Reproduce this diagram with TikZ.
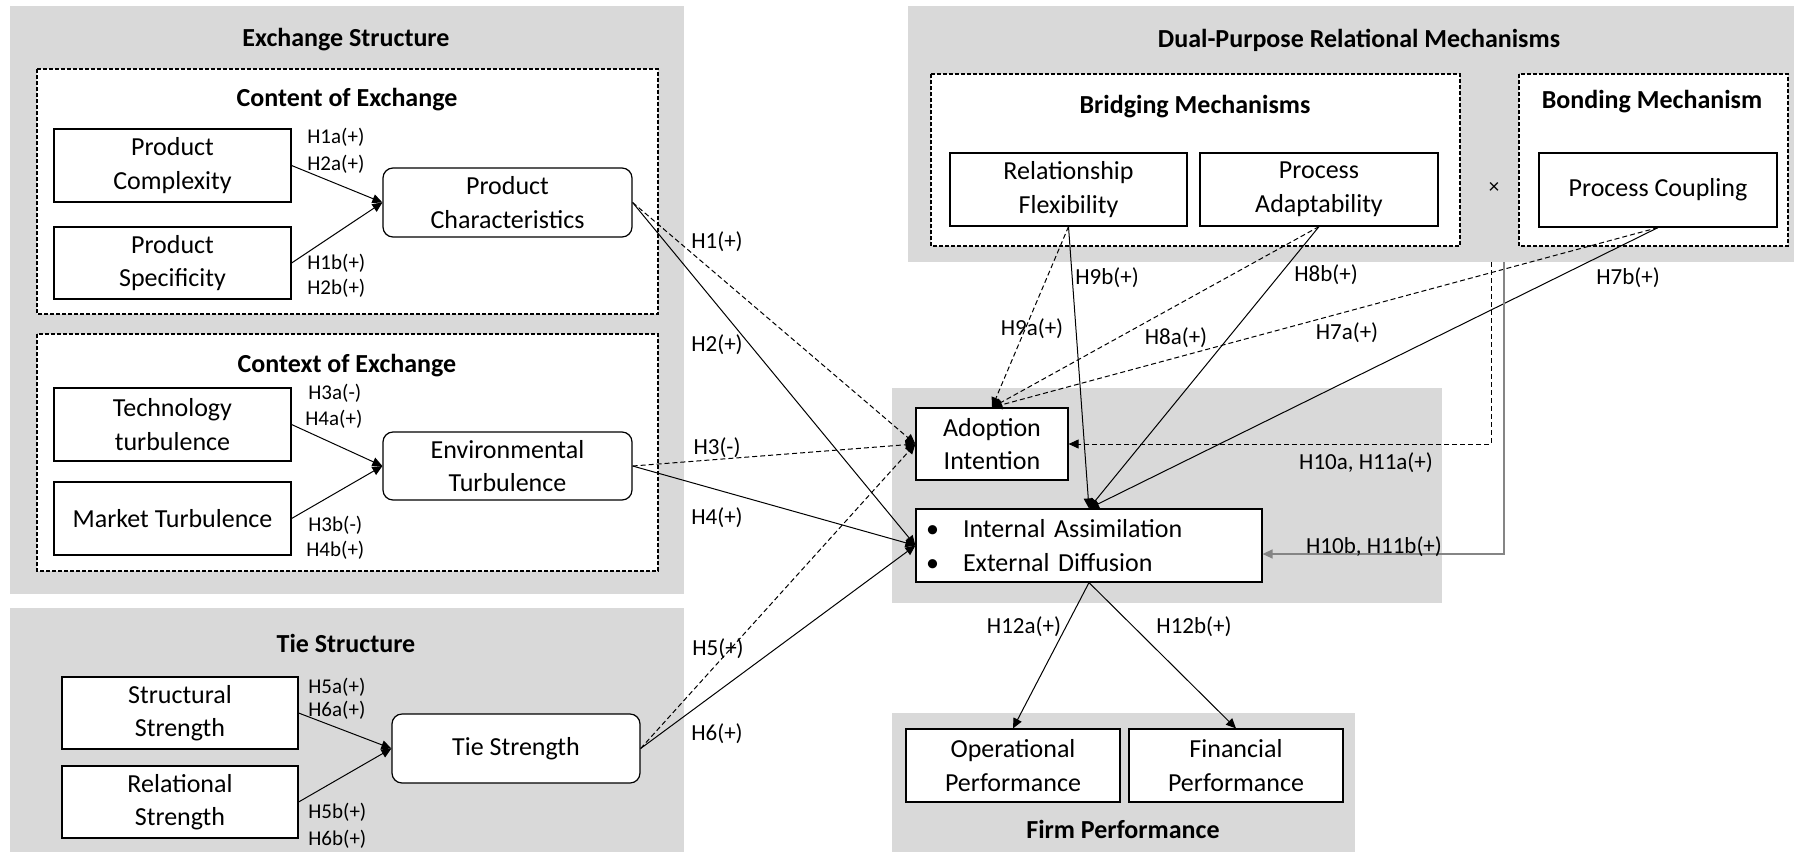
\documentclass[tikz,border=0pt]{standalone}
\usepackage{fontspec}
\setmainfont{Carlito}
\usetikzlibrary{arrows.meta}
\definecolor{panelgrey}{HTML}{D9D9D9}
\definecolor{linkgrey}{HTML}{858585}
\begin{document}
\begin{tikzpicture}[x=0.5pt,y=-0.5pt,
  panel/.style={fill=panelgrey, draw=none},
  groupbox/.style={fill=white, draw=black, line width=0.6pt, dash pattern=on 2pt off 1pt},
  heading/.style={font=\fontsize{13}{16.5}\selectfont\bfseries, inner sep=0pt},
  varbox/.style={draw=black, fill=white, line width=0.6pt, align=center, inner sep=0pt,
    font=\fontsize{13}{16.8}\selectfont},
  construct/.style={varbox, rounded corners=5pt},
  hyp/.style={font=\fontsize{10.5}{12}\selectfont, inner sep=0pt, anchor=west},
  hlabel/.style={font=\fontsize{11.5}{13}\selectfont, inner sep=0pt},
  link/.style={line width=0.5pt, -{Triangle[length=5pt,width=4.5pt]}},
  dlink/.style={link, dash pattern=on 2.5pt off 1.5pt},
]
\useasboundingbox (0,0) rectangle (1794,852);

% grey panels
\fill[panel] (10,6) rectangle (684,594);
\fill[panel] (10,608) rectangle (684,852);
\fill[panel] (908,6) rectangle (1794,262);
\fill[panel] (892,388) rectangle (1442,603);
\fill[panel] (892,713) rectangle (1355,852);

% dashed groups
\draw[groupbox] (37,69) rectangle (658,314);
\draw[groupbox] (37,334) rectangle (658,571);
\draw[groupbox] (931,74) rectangle (1460,246);
\draw[groupbox] (1519,74) rectangle (1788,246);

% headings
\node[heading] (hEx) at (346,40) {Exchange Structure};
\node[heading] (hContent) at (347,100) {Content of Exchange};
\node[heading] (hContext) at (347,366) {Context of Exchange};
\node[heading] (hTie) at (346,643) {Tie Structure};
\node[heading] (hDual) at (1359,40) {Dual-Purpose Relational Mechanisms};
\node[heading] (hBridge) at (1195,107) {Bridging Mechanisms};
\node[heading] (hBond) at (1652,102) {Bonding Mechanism};
\node[heading] (hFirm) at (1123,829) {Firm Performance};
\node[font=\fontsize{10.5}{12}\selectfont, inner sep=0pt] (times) at (1494,188) {×};

% variables
\node[varbox, minimum width=118.5pt, minimum height=36.5pt] (complexity) at (172.5,165.5) {Product\\Complexity};
\node[varbox, minimum width=118.5pt, minimum height=36pt] (specificity) at (172.5,263) {Product\\Specificity};
\node[construct, minimum width=124.5pt, minimum height=34.5pt] (prodchar) at (507.5,202.5) {Product\\Characteristics};
\node[varbox, minimum width=118.5pt, minimum height=36.5pt] (techturb) at (172.5,424.5) {Technology\\turbulence};
\node[varbox, minimum width=118.5pt, minimum height=36.5pt] (markturb) at (172.5,518.5) {Market Turbulence};
\node[construct, minimum width=124.5pt, minimum height=34pt] (envturb) at (507.5,466) {Environmental\\Turbulence};
\node[varbox, minimum width=118pt, minimum height=36pt] (structural) at (180,713) {Structural\\Strength};
\node[varbox, minimum width=118pt, minimum height=36pt] (relational) at (180,802) {Relational\\Strength};
\node[construct, minimum width=124pt, minimum height=34.5pt] (tiestr) at (516,748.5) {Tie Strength};
\node[varbox, minimum width=118.5pt, minimum height=36.5pt] (relflex) at (1068.5,189.5) {Relationship\\Flexibility};
\node[varbox, minimum width=119pt, minimum height=36.5pt] (procadapt) at (1319,189.5) {Process\\Adaptability};
\node[varbox, minimum width=119pt, minimum height=37pt] (proccoup) at (1658,190) {Process Coupling};
\node[varbox, minimum width=76pt, minimum height=36pt] (adoption) at (992,444) {Adoption\\Intention};
\node[varbox, text width=163pt, inner xsep=5pt, minimum height=36.5pt, align=left] (assim) at (1089,545.5)
  {\makebox[18.5pt][l]{\textbullet}Internal Assimilation\\\makebox[18.5pt][l]{\textbullet}External Diffusion};
\node[varbox, minimum width=107pt, minimum height=36.5pt] (operational) at (1013,765.5) {Operational\\Performance};
\node[varbox, minimum width=107pt, minimum height=36.5pt] (financial) at (1236,765.5) {Financial\\Performance};

% first-order paths
\draw[link] (complexity.east) -- (prodchar.west);
\draw[link] (specificity.east) -- (prodchar.west);
\draw[link] (techturb.east) -- (envturb.west);
\draw[link] (markturb.east) -- (envturb.west);
\draw[link] (structural.east) -- (tiestr.west);
\draw[link] (relational.east) -- (tiestr.west);

% paths to adoption and assimilation
\draw[dlink] (prodchar.east) -- (adoption.west);
\draw[link] (prodchar.east) -- (assim.west);
\draw[dlink] (envturb.east) -- (adoption.west);
\draw[link] (envturb.east) -- (assim.west);
\draw[dlink] (tiestr.east) -- (adoption.west);
\draw[link] (tiestr.east) -- (assim.west);
\draw[dlink] (relflex.south) -- (adoption.north);
\draw[link] (relflex.south) -- (assim.north);
\draw[dlink] (procadapt.south) -- (adoption.north);
\draw[link] (procadapt.south) -- (assim.north);
\draw[dlink] (proccoup.south) -- (adoption.north);
\draw[link] (proccoup.south) -- (assim.north);

% interaction paths
\coordinate (modA) at (1491,262);
\coordinate (modB) at (1504,262);
\draw[dlink] (modA) |- (adoption.east);
\draw[link, draw=linkgrey, line width=0.7pt] (modB) |- ([yshift=-4.25pt]assim.east);

% performance paths
\draw[link] (assim.south) -- (operational.north);
\draw[link] (assim.south) -- (financial.north);

% hypothesis labels
\node[hyp] (l1a) at (307,137) {H1a(+)};
\node[hyp] (l2a) at (307,164) {H2a(+)};
\node[hyp] (l1b) at (307,263) {H1b(+)};
\node[hyp] (l2b) at (307,288) {H2b(+)};
\node[hyp] (l3a) at (308,393) {H3a(-)};
\node[hyp] (l4a) at (305,419) {H4a(+)};
\node[hyp] (l3b) at (308,525) {H3b(-)};
\node[hyp] (l4b) at (306,550) {H4b(+)};
\node[hyp] (l5a) at (308,687) {H5a(+)};
\node[hyp] (l6a) at (308,710) {H6a(+)};
\node[hyp] (l5b) at (308,812) {H5b(+)};
\node[hyp] (l6b) at (308,839) {H6b(+)};

\node[hlabel] (h1) at (717,242) {H1(+)};
\node[hlabel] (h2) at (717,345) {H2(+)};
\node[hlabel] (h3) at (717,448) {H3(-)};
\node[hlabel] (h4) at (717,518) {H4(+)};
\node[hlabel] (h5) at (718,649) {H5(+)};
\node[hlabel] (h6) at (717,734) {H6(+)};
\node[hlabel] (h9a) at (1032,329) {H9a(+)};
\node[hlabel] (h9b) at (1107,278) {H9b(+)};
\node[hlabel] (h8a) at (1176,338) {H8a(+)};
\node[hlabel] (h8b) at (1326,275) {H8b(+)};
\node[hlabel] (h7a) at (1347,333) {H7a(+)};
\node[hlabel] (h7b) at (1628,278) {H7b(+)};
\node[hlabel] (h10a) at (1366,463) {H10a, H11a(+)};
\node[hlabel] (h10b) at (1374,547) {H10b, H11b(+)};
\node[hlabel] (h12a) at (1024,627) {H12a(+)};
\node[hlabel] (h12b) at (1194,627) {H12b(+)};
\end{tikzpicture}
\end{document}
